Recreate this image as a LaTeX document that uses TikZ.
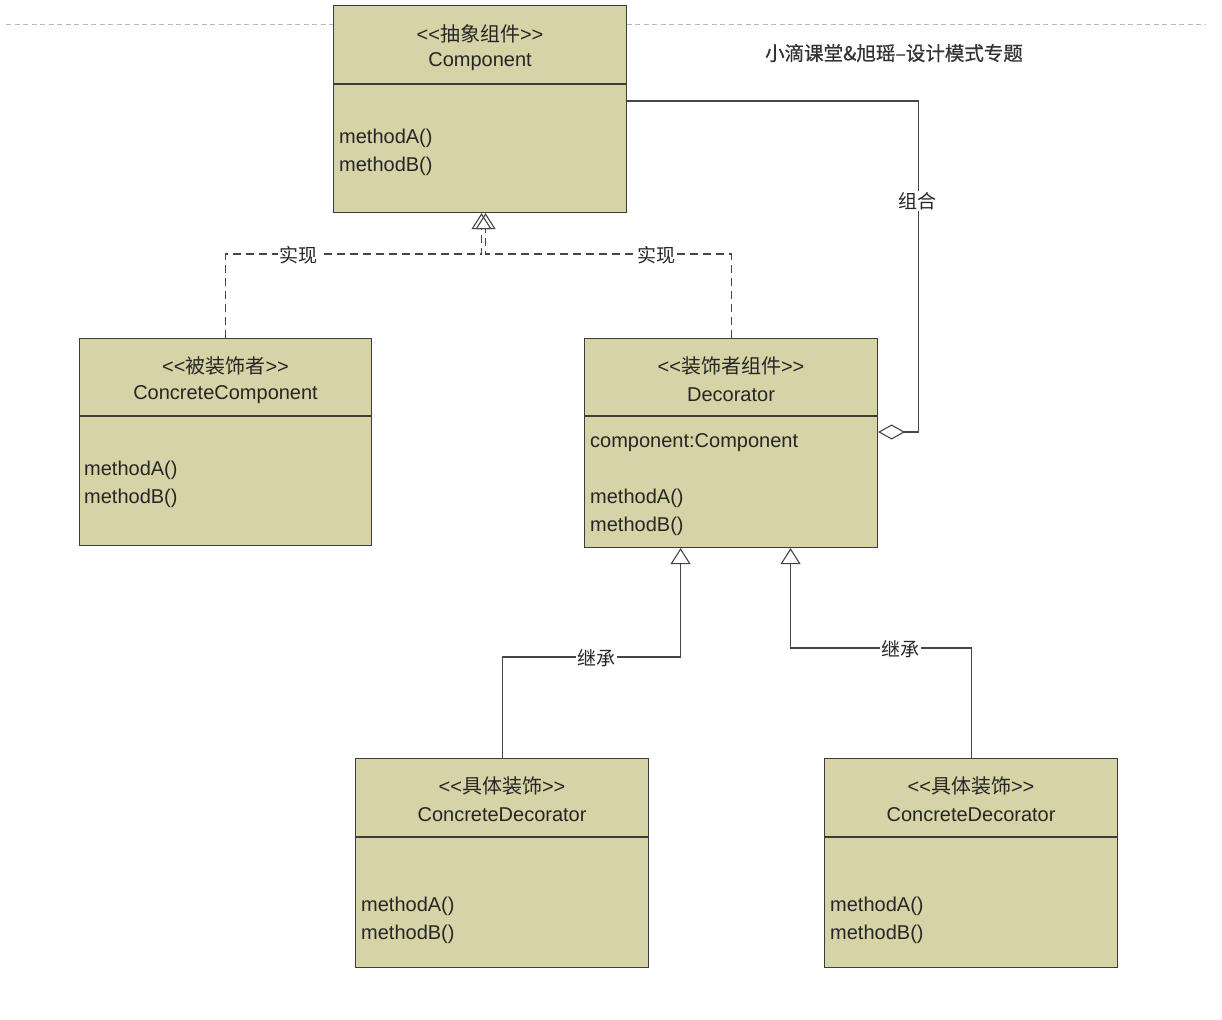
\documentclass[tikz,border=0pt]{standalone}
\usepackage{fontspec}
\setmainfont{Liberation Sans}
\newfontfamily\cjk{Noto Sans CJK SC}
\newfontfamily\cjkb[FakeBold=0.6]{Noto Sans CJK SC}
\usetikzlibrary{arrows.meta,calc}
\definecolor{boxfill}{RGB}{214,211,166}
\definecolor{boxline}{RGB}{60,60,60}
\definecolor{conn}{RGB}{70,70,70}
\tikzset{
  umlbox/.style={draw=boxline, fill=boxfill, line width=1.1pt, rectangle, inner sep=0pt, anchor=north west},
  stxt/.style={font=\fontsize{20}{22}\selectfont, text=black!85, inner sep=0pt},
  mtxt/.style={font=\fontsize{20}{22}\selectfont, text=black!85, inner sep=0pt, anchor=west},
  lbl/.style={font=\cjk\fontsize{19}{21}\selectfont, text=black!85, fill=white, inner sep=1.5pt},
  realize/.style={draw=conn, line width=1.1pt, dash pattern=on 8pt off 5pt, -{Triangle[open, length=16pt, width=20pt, line width=1.1pt]}},
  inherit/.style={draw=conn, line width=1.1pt, -{Triangle[open, length=16pt, width=20pt, line width=1.1pt]}},
  aggr/.style={draw=conn, line width=1.1pt, -{Diamond[open, length=27pt, width=15pt, line width=1.1pt]}},
}
\begin{document}
\begin{tikzpicture}[x=1pt, y=-1pt]
\useasboundingbox (0,0) rectangle (1222,1019);
\fill[white] (0,0) rectangle (1222,1019);
% top dashed line
\coordinate (tl) at (6,25);
\coordinate (tr) at (1206,25);
\draw[black!28, line width=1pt, dash pattern=on 5pt off 3.5pt] (tl) -- (tr);

% Component
\node[umlbox, minimum width=293pt, minimum height=207pt] (comp) at (333,5) {};
\draw[boxline, line width=1.1pt] ([yshift=-79pt]comp.north west) -- ([yshift=-79pt]comp.north east);
\node[stxt] (comps) at ([yshift=-29pt]comp.north) {<{}<{\cjk 抽象组件}>{}>};
\node[stxt] (compn) at ([yshift=-57pt]comp.north) {Component};
\node[mtxt] (compa) at ([xshift=6pt,yshift=-133pt]comp.north west) {methodA()};
\node[mtxt] (compb) at ([xshift=6pt,yshift=-161pt]comp.north west) {methodB()};

% ConcreteComponent
\node[umlbox, minimum width=292pt, minimum height=207pt] (cc) at (79,338) {};
\draw[boxline, line width=1.1pt] ([yshift=-78pt]cc.north west) -- ([yshift=-78pt]cc.north east);
\node[stxt] (ccs) at ([yshift=-28pt]cc.north) {<{}<{\cjk 被装饰者}>{}>};
\node[stxt] (ccn) at ([yshift=-57pt]cc.north) {ConcreteComponent};
\node[mtxt] (cca) at ([xshift=5pt,yshift=-132pt]cc.north west) {methodA()};
\node[mtxt] (ccb) at ([xshift=5pt,yshift=-160pt]cc.north west) {methodB()};

% Decorator
\node[umlbox, minimum width=293pt, minimum height=209pt] (dec) at (584,338) {};
\draw[boxline, line width=1.1pt] ([yshift=-78pt]dec.north west) -- ([yshift=-78pt]dec.north east);
\node[stxt] (decs) at ([yshift=-28pt]dec.north) {<{}<{\cjk 装饰者组件}>{}>};
\node[stxt] (decn) at ([yshift=-57pt]dec.north) {Decorator};
\node[mtxt] (decf) at ([xshift=6pt,yshift=-105pt]dec.north west) {component:Component};
\node[mtxt] (deca) at ([xshift=6pt,yshift=-160pt]dec.north west) {methodA()};
\node[mtxt] (decb) at ([xshift=6pt,yshift=-188pt]dec.north west) {methodB()};

% ConcreteDecorator 1
\node[umlbox, minimum width=293pt, minimum height=209pt] (cd1) at (355,758) {};
\draw[boxline, line width=1.1pt] ([yshift=-79pt]cd1.north west) -- ([yshift=-79pt]cd1.north east);
\node[stxt] (cd1s) at ([yshift=-28pt]cd1.north) {<{}<{\cjk 具体装饰}>{}>};
\node[stxt] (cd1n) at ([yshift=-57pt]cd1.north) {ConcreteDecorator};
\node[mtxt] (cd1a) at ([xshift=6pt,yshift=-148pt]cd1.north west) {methodA()};
\node[mtxt] (cd1b) at ([xshift=6pt,yshift=-176pt]cd1.north west) {methodB()};

% ConcreteDecorator 2
\node[umlbox, minimum width=293pt, minimum height=209pt] (cd2) at (824,758) {};
\draw[boxline, line width=1.1pt] ([yshift=-79pt]cd2.north west) -- ([yshift=-79pt]cd2.north east);
\node[stxt] (cd2s) at ([yshift=-28pt]cd2.north) {<{}<{\cjk 具体装饰}>{}>};
\node[stxt] (cd2n) at ([yshift=-57pt]cd2.north) {ConcreteDecorator};
\node[mtxt] (cd2a) at ([xshift=6pt,yshift=-148pt]cd2.north west) {methodA()};
\node[mtxt] (cd2b) at ([xshift=6pt,yshift=-176pt]cd2.north west) {methodB()};

% Title
\node[font=\cjkb\fontsize{19.5}{21}\selectfont, text=black!80, inner sep=0pt] (title) at (894,53) {小滴课堂\&旭瑶–设计模式专题};

% realization connectors
\draw[realize] (cc.north) -- ++(0,-84) -| ([xshift=1.5pt]comp.south);
\draw[realize] (dec.north) -- ++(0,-84) -| ([xshift=5.5pt]comp.south);
\node[lbl] (l1) at (298,255) {实现};
\node[lbl] (l2) at (656,255) {实现};

% aggregation
\draw[aggr] ([yshift=-96pt]comp.north east) -- ++(291,0) |- ([yshift=-94pt]dec.north east);
\node[lbl] (l3) at (917,201) {组合};

% inheritance
\draw[inherit] (cd1.north) -- ++(0,-101) -| ([xshift=-50.5pt]dec.south);
\draw[inherit] (cd2.north) -- ++(0,-110) -| ([xshift=59.5pt]dec.south);
\node[lbl] (l4) at (596,658) {继承};
\node[lbl] (l5) at (900,649) {继承};
\end{tikzpicture}
\end{document}
